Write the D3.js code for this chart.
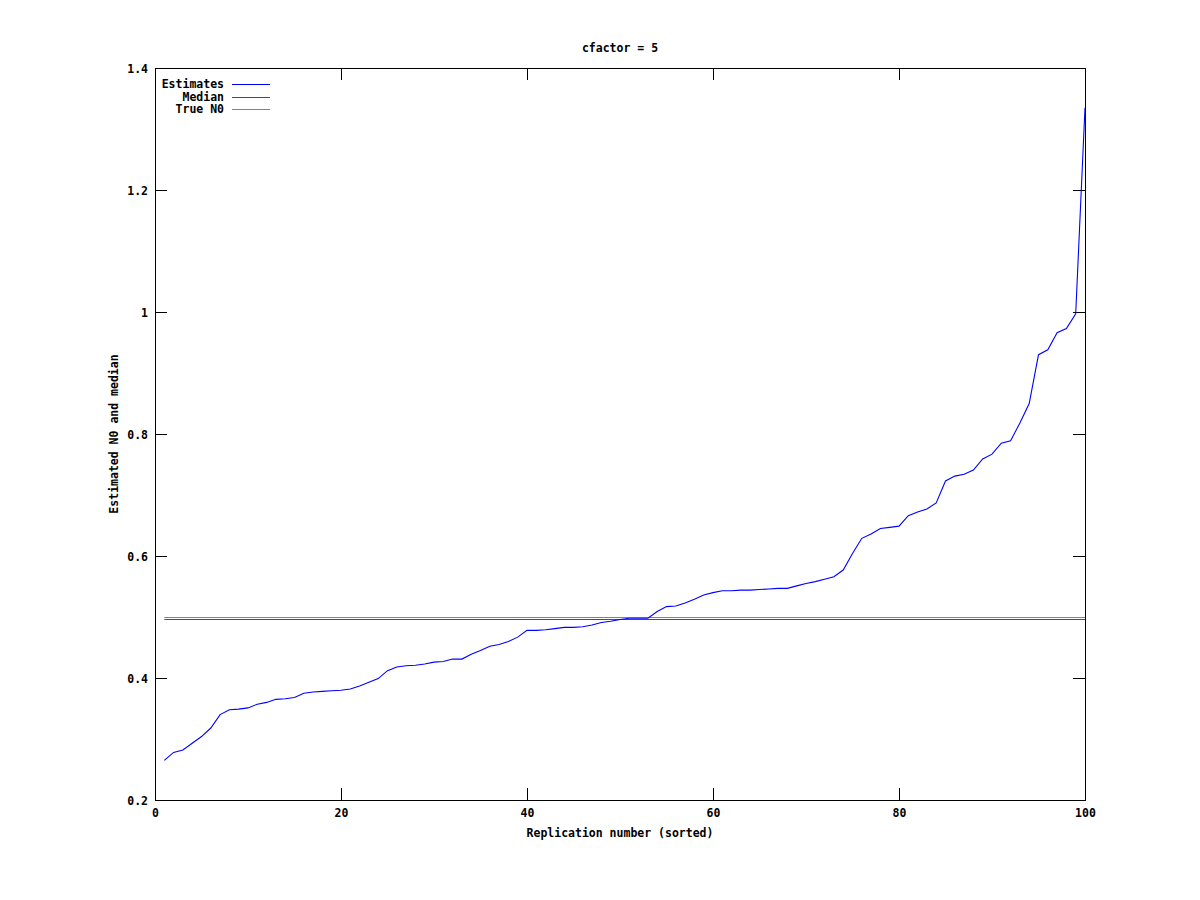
<!DOCTYPE html>
<html>
<head>
<meta charset="utf-8">
<script src="https://cdn.jsdelivr.net/npm/d3@7"></script>
<style>
  body { margin: 0; background: #fff; }
  svg { display: block; }
  text { font-family: "DejaVu Sans Mono", "Liberation Mono", monospace; font-weight: bold; font-size: 11.5px; fill: #000; }
</style>
</head>
<body>
<svg id="chart" width="1200" height="900"></svg>
<script>
// ---- data ----
const titleText = "cfactor = 5";
const xLabelText = "Replication number (sorted)";
const yLabelText = "Estimated N0 and median";
const replication = d3.range(1, 101);
const estimates = [
  0.265, 0.278, 0.282, 0.293, 0.304, 0.318, 0.340, 0.348, 0.349, 0.351,
  0.357, 0.360, 0.365, 0.366, 0.368, 0.375, 0.377, 0.378, 0.379, 0.380,
  0.382, 0.387, 0.393, 0.399, 0.412, 0.418, 0.420, 0.421, 0.423, 0.426,
  0.427, 0.431, 0.431, 0.439, 0.445, 0.452, 0.455, 0.460, 0.467, 0.478,
  0.478, 0.479, 0.481, 0.483, 0.483, 0.484, 0.487, 0.491, 0.493, 0.496,
  0.498, 0.498, 0.498, 0.509, 0.517, 0.518, 0.523, 0.529, 0.536, 0.540,
  0.543, 0.543, 0.544, 0.544, 0.545, 0.546, 0.547, 0.547, 0.551, 0.555,
  0.558, 0.562, 0.566, 0.577, 0.604, 0.629, 0.636, 0.645, 0.647, 0.649,
  0.666, 0.672, 0.677, 0.687, 0.723, 0.731, 0.734, 0.741, 0.759, 0.767,
  0.785, 0.789, 0.818, 0.850, 0.930, 0.938, 0.966, 0.973, 0.997, 1.335
];
const medianValue = 0.497;
const trueN0 = 0.5;
const xTicks = [0, 20, 40, 60, 80, 100];
const xTickLabels = ["0", "20", "40", "60", "80", "100"];
const yTicks = [0.2, 0.4, 0.6, 0.8, 1.0, 1.2, 1.4];
const yTickLabels = ["0.2", "0.4", "0.6", "0.8", "1", "1.2", "1.4"];
const legendNames = ["Estimates", "Median", "True N0"];
const seriesColors = ["#0000ff", "#ff0000", "#00dd00"];

// ---- layout ----
const svg = d3.select("#chart");
const pLeft = 155, pRight = 1085, pTop = 68, pBottom = 800;
const x = d3.scaleLinear().domain([0, 100]).range([pLeft, pRight]);
const y = d3.scaleLinear().domain([0.2, 1.4]).range([pBottom, pTop]);

svg.append("rect").attr("width", 1200).attr("height", 900).attr("fill", "#fff");

// clip
svg.append("clipPath").attr("id", "plotclip")
  .append("rect").attr("x", pLeft).attr("y", pTop).attr("width", pRight - pLeft).attr("height", pBottom - pTop);

// axes (inward ticks on all 4 sides)
const tickLen = 12;
const xAxisB = d3.axisBottom(x).tickValues(xTicks).tickFormat((d, i) => xTickLabels[i])
  .tickSizeInner(-tickLen).tickSizeOuter(0).tickPadding(11);
const gxb = svg.append("g").attr("transform", `translate(0,${pBottom})`).call(xAxisB);
const xAxisT = d3.axisTop(x).tickValues(xTicks).tickFormat("").tickSizeInner(-tickLen).tickSizeOuter(0);
const gxt = svg.append("g").attr("transform", `translate(0,${pTop})`).call(xAxisT);
const yAxisL = d3.axisLeft(y).tickValues(yTicks).tickFormat((d, i) => yTickLabels[i])
  .tickSizeInner(-tickLen).tickSizeOuter(0).tickPadding(7);
const gyl = svg.append("g").attr("transform", `translate(${pLeft},0)`).call(yAxisL);
const yAxisR = d3.axisRight(y).tickValues(yTicks).tickFormat("").tickSizeInner(-tickLen).tickSizeOuter(0);
const gyr = svg.append("g").attr("transform", `translate(${pRight},0)`).call(yAxisR);

[gxb, gxt, gyl, gyr].forEach(g => {
  g.select(".domain").remove();
  g.attr("font-family", null).attr("font-size", null);
  g.selectAll(".tick line").attr("stroke", "#000").attr("shape-rendering", "crispEdges");
});
gxb.selectAll(".tick text").attr("dy", "0.5em");
gyl.selectAll(".tick text").attr("dy", "0.35em");

// series lines
const g = svg.append("g").attr("clip-path", "url(#plotclip)");
const line = d3.line().x((d, i) => x(replication[i])).y(d => y(d));

g.append("line")
  .attr("x1", x(replication[0])).attr("x2", x(replication[replication.length - 1]))
  .attr("y1", Math.round(y(trueN0)) + 0.5).attr("y2", Math.round(y(trueN0)) + 0.5)
  .attr("stroke", seriesColors[2]).attr("stroke-width", 1);
g.append("line")
  .attr("x1", x(replication[0])).attr("x2", x(replication[replication.length - 1]))
  .attr("y1", Math.round(y(medianValue)) + 0.5).attr("y2", Math.round(y(medianValue)) + 0.5)
  .attr("stroke", seriesColors[1]).attr("stroke-width", 1);
g.append("path").datum(estimates)
  .attr("d", line).attr("fill", "none")
  .attr("stroke", seriesColors[0]).attr("stroke-width", 1.1);

// border
svg.append("rect")
  .attr("x", pLeft + 0.5).attr("y", pTop + 0.5)
  .attr("width", pRight - pLeft).attr("height", pBottom - pTop)
  .attr("fill", "none").attr("stroke", "#000").attr("stroke-width", 1)
  .attr("shape-rendering", "crispEdges");

// legend
const legend = svg.append("g");
legendNames.forEach((name, i) => {
  const ly = 84 + i * 12.7;
  legend.append("text").attr("x", 224).attr("y", ly).attr("dy", "0.35em")
    .attr("text-anchor", "end").text(name);
  legend.append("line").attr("x1", 232).attr("x2", 270)
    .attr("y1", Math.round(ly) + 0.5).attr("y2", Math.round(ly) + 0.5)
    .attr("stroke", seriesColors[i]).attr("stroke-width", 1);
});

// titles
svg.append("text").attr("x", 620).attr("y", 52).attr("text-anchor", "middle").text(titleText);
svg.append("text").attr("x", 620).attr("y", 837).attr("text-anchor", "middle").text(xLabelText);
svg.append("text").attr("transform", "translate(118,434) rotate(-90)")
  .attr("text-anchor", "middle").text(yLabelText);
</script>
</body>
</html>
